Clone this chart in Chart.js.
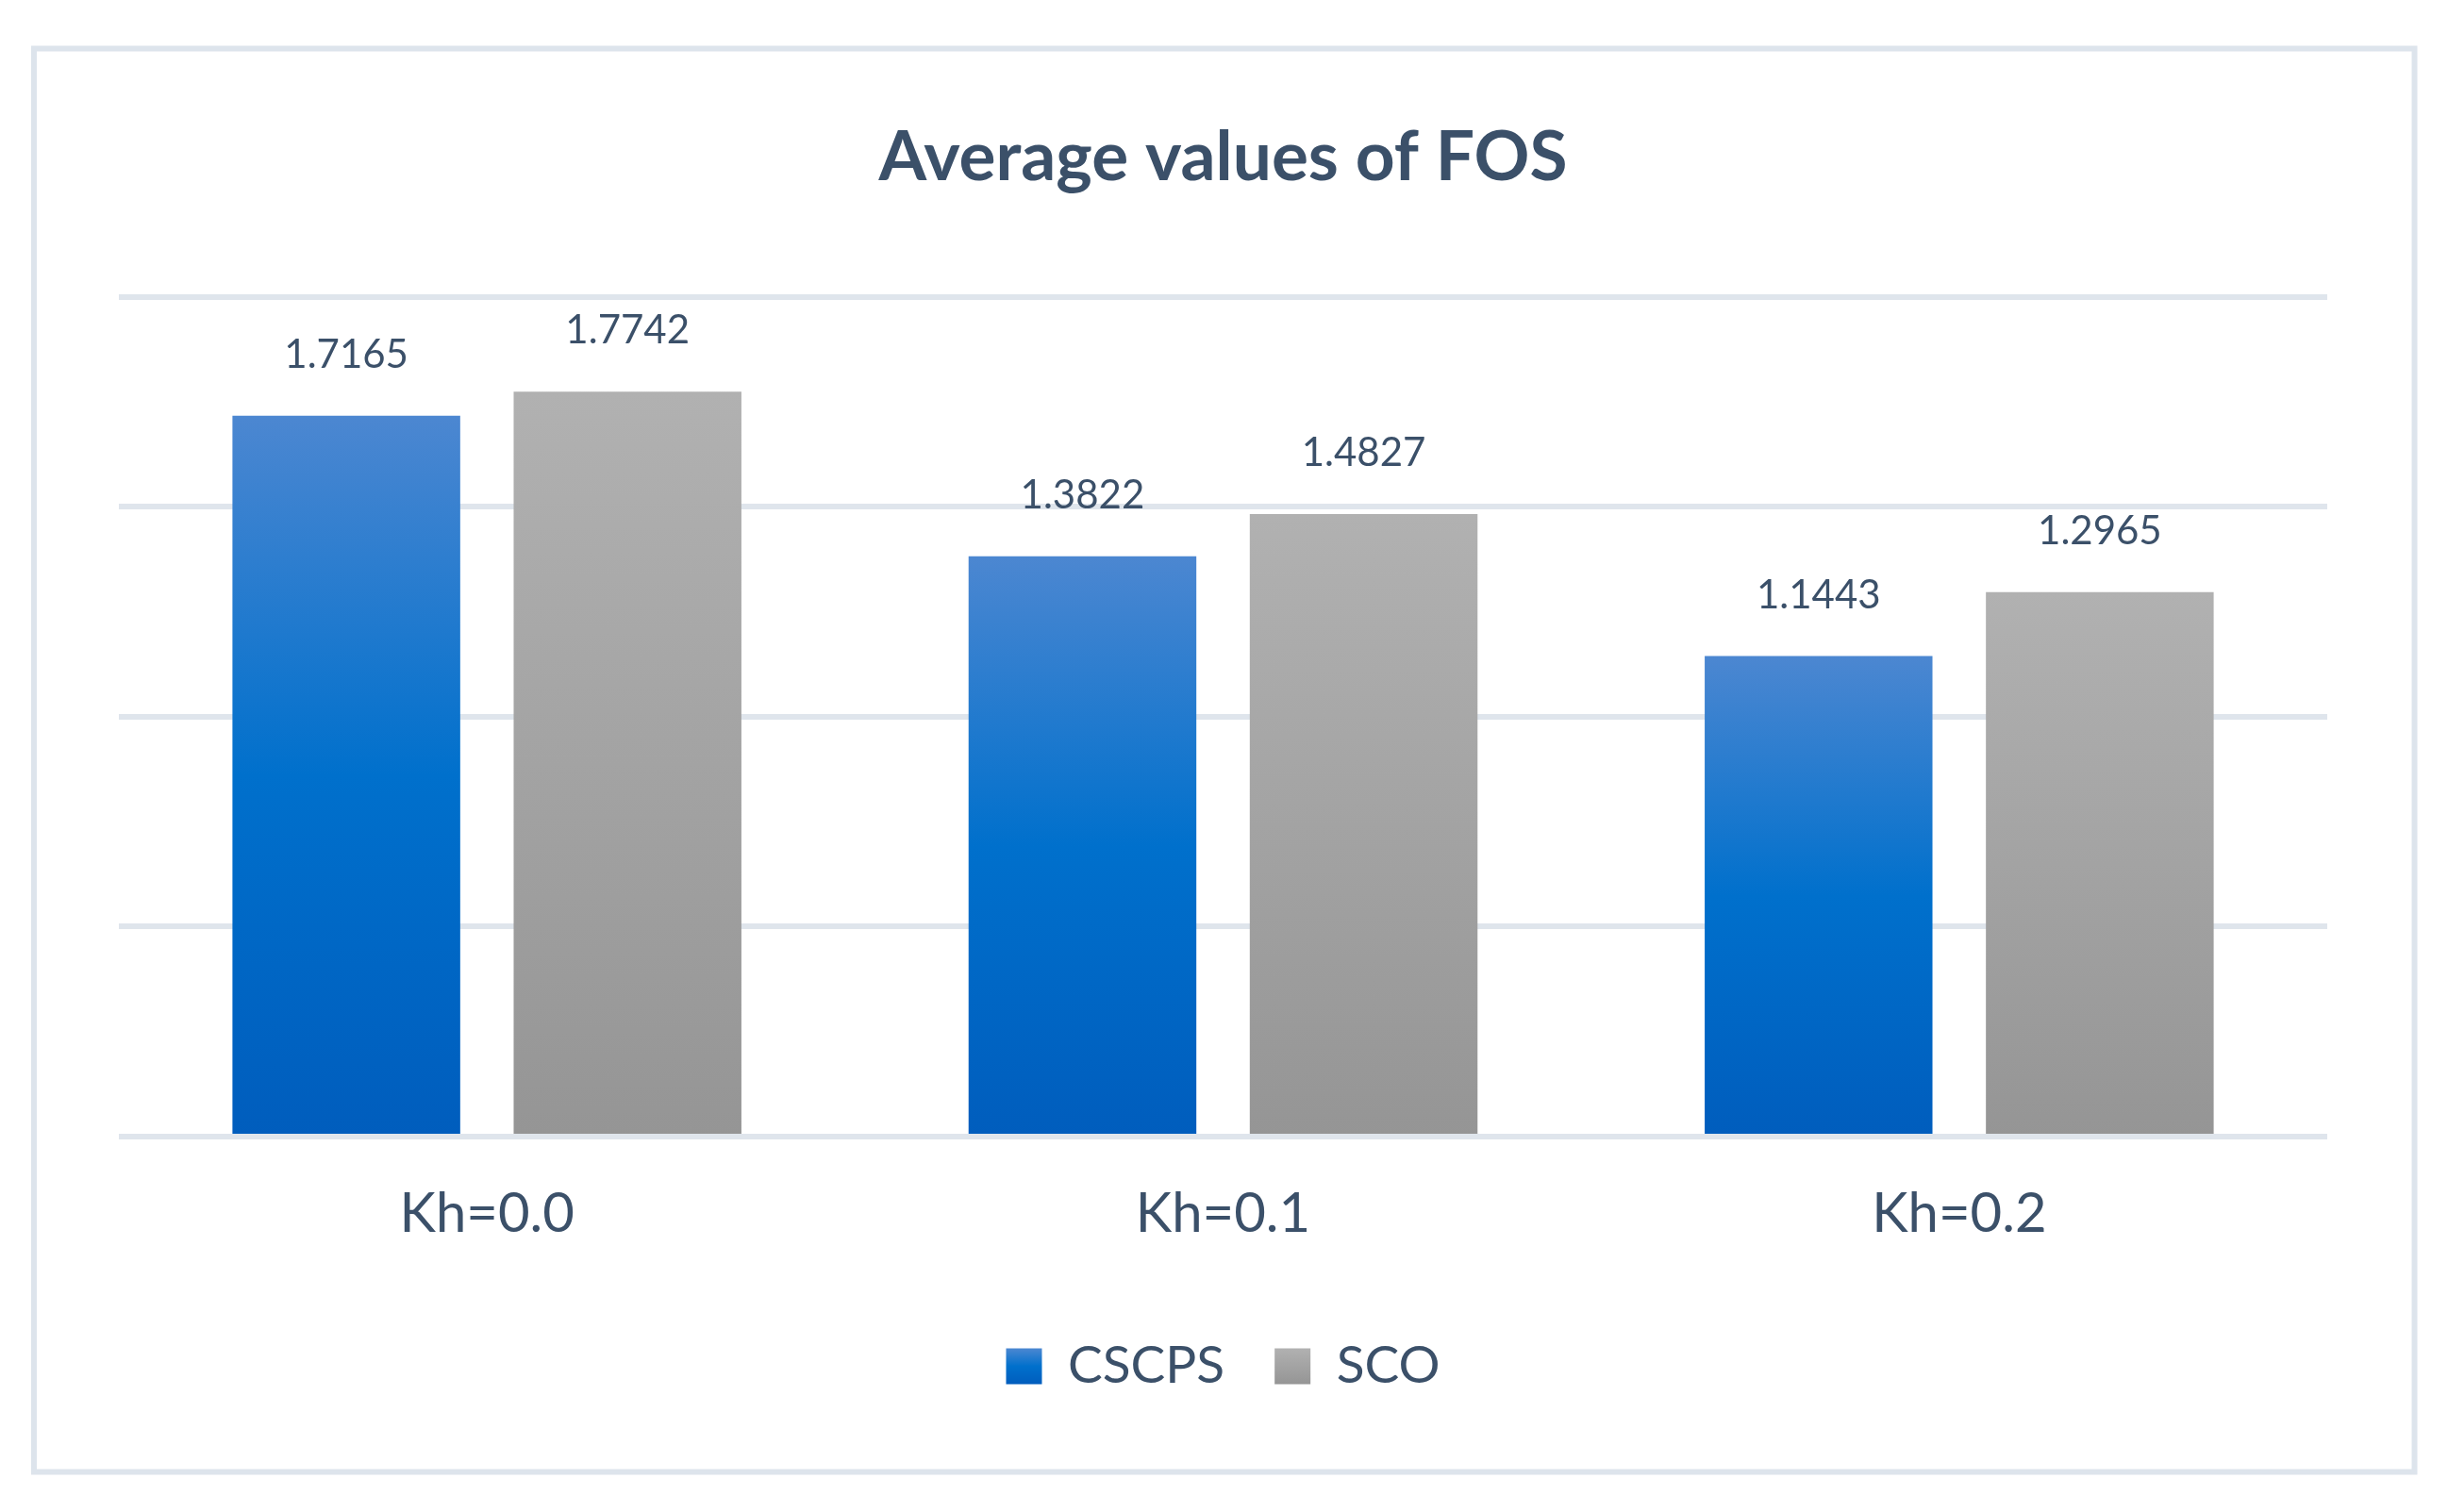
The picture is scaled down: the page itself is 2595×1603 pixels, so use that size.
<!DOCTYPE html>
<html>
<head>
<meta charset="utf-8">
<script src="https://cdn.jsdelivr.net/npm/chart.js@4.4.1/dist/chart.umd.min.js"></script>
<style>
  html, body { margin: 0; padding: 0; background: #ffffff; }
  #wrap { position: relative; width: 2595px; height: 1603px; }
  canvas { display: block; }
</style>
</head>
<body>
<div id="wrap"><canvas id="c" width="2595" height="1603"></canvas></div>
<script>
const categories = ['Kh=0.0', 'Kh=0.1', 'Kh=0.2'];
const seriesNames = ['CSCPS', 'SCO'];
const cscpsValues = [1.7165, 1.3822, 1.1443];
const scoValues = [1.7742, 1.4827, 1.2965];
const yTicks = [0, 0.5, 1.0, 1.5, 2.0];
const titleText = 'Average values of FOS';

const TEXT = '#3b5069';
const GRID = '#dfe5ec';
const BLUE_STOPS = [[0, '#4c87d1'], [0.5, '#0070cc'], [1, '#005dbd']];
const GRAY_STOPS = [[0, '#b1b1b1'], [1, '#959595']];
const stopsFor = [BLUE_STOPS, GRAY_STOPS];

function makeGrad(ctx2d, top, bottom, stops) {
  const g = ctx2d.createLinearGradient(0, top, 0, bottom);
  stops.forEach(s => g.addColorStop(s[0], s[1]));
  return g;
}

function barFill(dsIndex) {
  return function(context) {
    const chart = context.chart;
    const stops = stopsFor[dsIndex];
    if (context.type !== 'data' || !chart.chartArea) return stops[1][1];
    const ys = chart.scales.y;
    const top = ys.getPixelForValue(context.raw);
    const bottom = ys.getPixelForValue(0);
    return makeGrad(chart.ctx, top, bottom, stops);
  };
}

const framePlugin = {
  id: 'frame',
  beforeDraw(chart) {
    const c = chart.ctx;
    c.save();
    c.fillStyle = '#ffffff';
    c.fillRect(0, 0, chart.width, chart.height);
    c.strokeStyle = '#dde4ec';
    c.lineWidth = 6;
    c.strokeRect(36, 51.5, 2523.5, 1509);
    c.restore();
    const lg = chart.legend;
    if (lg && lg.legendItems && lg.legendHitBoxes) {
      const boxH = lg.options.labels.boxHeight;
      const fs = lg.options.labels.font.size;
      const itemH = Math.max(fs, boxH);
      lg.legendItems.forEach((it, i) => {
        const hb = lg.legendHitBoxes[i];
        if (!hb) return;
        const t = hb.top + (itemH - boxH) / 2;
        it.fillStyle = makeGrad(c, t, t + boxH, stopsFor[i]);
      });
    }
  }
};

const valueLabels = {
  id: 'valueLabels',
  afterDatasetsDraw(chart) {
    const c = chart.ctx;
    c.save();
    c.font = '42px Lato';
    c.fillStyle = TEXT;
    c.textAlign = 'center';
    c.textBaseline = 'alphabetic';
    chart.data.datasets.forEach((ds, di) => {
      const meta = chart.getDatasetMeta(di);
      meta.data.forEach((el, i) => {
        c.fillText(ds.data[i].toFixed(4), el.x, el.y - 51);
      });
    });
    c.restore();
  }
};

new Chart(document.getElementById('c'), {
  type: 'bar',
  data: {
    labels: categories,
    datasets: [
      { label: seriesNames[0], data: cscpsValues, backgroundColor: barFill(0), borderWidth: 0,
        categoryPercentage: 0.764, barPercentage: 0.81 },
      { label: seriesNames[1], data: scoValues, backgroundColor: barFill(1), borderWidth: 0,
        categoryPercentage: 0.764, barPercentage: 0.81 }
    ]
  },
  options: {
    responsive: false,
    devicePixelRatio: 1,
    animation: false,
    layout: { padding: { left: 126, right: 128, top: 0, bottom: 117 } },
    plugins: {
      title: {
        display: true,
        text: titleText,
        color: TEXT,
        font: { family: 'Lato', size: 73, weight: 'bold', lineHeight: 1.2 },
        padding: { top: 124, bottom: 103 }
      },
      legend: {
        display: true,
        position: 'bottom',
        labels: {
          color: TEXT,
          font: { family: 'Lato', size: 55 },
          boxWidth: 38,
          boxHeight: 38,
          padding: 53
        }
      },
      tooltip: { enabled: false }
    },
    scales: {
      x: {
        grid: { display: false, drawTicks: false },
        border: { display: false },
        ticks: { color: TEXT, font: { family: 'Lato', size: 58 }, padding: 47 },
        afterFit(scale) { scale.height = 163; }
      },
      y: {
        min: 0,
        max: 2,
        afterBuildTicks(scale) { scale.ticks = yTicks.map(v => ({ value: v })); },
        grid: { color: GRID, lineWidth: 6, drawTicks: false },
        border: { display: false },
        ticks: { display: false }
      }
    }
  },
  plugins: [framePlugin, valueLabels]
});
</script>
</body>
</html>
